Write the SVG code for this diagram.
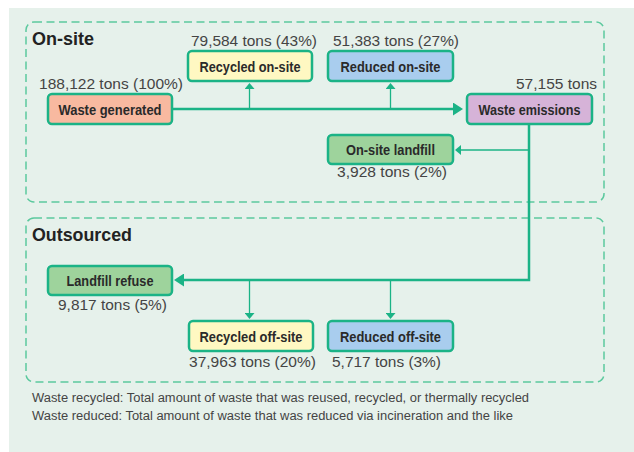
<svg xmlns="http://www.w3.org/2000/svg" width="634" height="452" viewBox="0 0 634 452">
<style>
.bg{fill:#E6F1EB}
.zone{fill:none;stroke:#5CC99E;stroke-width:1.5;stroke-dasharray:8 4.5}
.zt{font-family:"Liberation Sans",Arial,sans-serif;font-weight:bold;font-size:17.5px;fill:#222}
.box{stroke:#1BB386;stroke-width:2.5}
.bl{font-family:"Liberation Sans Narrow","Liberation Sans",Arial,sans-serif;font-weight:bold;font-size:15.5px;fill:#2a2a2a;text-anchor:middle}
.num{font-family:"Liberation Sans",Arial,sans-serif;font-size:15px;fill:#444}
.note{font-family:"Liberation Sans",Arial,sans-serif;font-size:12px;fill:#444}
.thick{fill:none;stroke:#1BB386;stroke-width:2.5}
.thin{fill:none;stroke:#1BB386;stroke-width:1.3}
.ah{fill:#1BB386}
</style>
<defs>
<marker id="big" viewBox="0 0 10 13" refX="1" refY="6.5" markerWidth="10" markerHeight="13" markerUnits="userSpaceOnUse" orient="auto"><path class="ah" d="M0,0 L10,6.5 L0,13 z"/></marker>
<marker id="sm" viewBox="0 0 6 10" refX="1" refY="5" markerWidth="6" markerHeight="10" markerUnits="userSpaceOnUse" orient="auto"><path class="ah" d="M0,0 L6,5 L0,10 z"/></marker>
</defs>
<rect class="bg" x="9" y="8" width="625" height="444"/>
<g id="zone-onsite">
<rect class="zone" x="26" y="22" width="578" height="180" rx="8"/>
<text class="zt" x="32" y="45" textLength="62" lengthAdjust="spacingAndGlyphs">On-site</text>
</g>
<g id="zone-outsourced">
<rect class="zone" x="26" y="218" width="578" height="164" rx="8"/>
<text class="zt" x="32" y="241" textLength="100" lengthAdjust="spacingAndGlyphs">Outsourced</text>
</g>
<g id="connectors">
<path class="thick" d="M172,109 H454" marker-end="url(#big)"/>
<path class="thin" d="M249.5,109 V88" marker-end="url(#sm)"/>
<path class="thin" d="M390.5,109 V88" marker-end="url(#sm)"/>
<path class="thick" d="M529,124 V280 H183" marker-end="url(#big)"/>
<path class="thin" d="M529,150 H460" marker-end="url(#sm)"/>
<path class="thin" d="M249.5,280 V314" marker-end="url(#sm)"/>
<path class="thin" d="M390.5,280 V314" marker-end="url(#sm)"/>
</g>
<g id="waste-generated">
<rect class="box" x="48" y="94" width="124" height="30" rx="4" fill="#F8B9A0"/>
<text class="bl" x="110" y="114.5" textLength="103" lengthAdjust="spacingAndGlyphs">Waste generated</text>
<text class="num" x="39" y="89" textLength="144" lengthAdjust="spacingAndGlyphs">188,122 tons (100%)</text>
</g>
<g id="recycled-onsite">
<rect class="box" x="188" y="51" width="124" height="30" rx="4" fill="#FFF8C2"/>
<text class="bl" x="250" y="71.5" textLength="101" lengthAdjust="spacingAndGlyphs">Recycled on-site</text>
<text class="num" x="191" y="46" textLength="126" lengthAdjust="spacingAndGlyphs">79,584 tons (43%)</text>
</g>
<g id="reduced-onsite">
<rect class="box" x="328" y="51" width="125" height="30" rx="4" fill="#A9CDEE"/>
<text class="bl" x="390.5" y="71.5" textLength="100" lengthAdjust="spacingAndGlyphs">Reduced on-site</text>
<text class="num" x="333" y="46" textLength="126" lengthAdjust="spacingAndGlyphs">51,383 tons (27%)</text>
</g>
<g id="waste-emissions">
<rect class="box" x="467" y="94" width="125" height="30" rx="4" fill="#D6B3D8"/>
<text class="bl" x="529.5" y="114.5" textLength="102" lengthAdjust="spacingAndGlyphs">Waste emissions</text>
<text class="num" x="516" y="89" textLength="81" lengthAdjust="spacingAndGlyphs">57,155 tons</text>
</g>
<g id="onsite-landfill">
<rect class="box" x="328" y="135" width="125" height="29" rx="4" fill="#9ED39C"/>
<text class="bl" x="390.5" y="155" textLength="89" lengthAdjust="spacingAndGlyphs">On-site landfill</text>
<text class="num" x="337" y="177" textLength="110" lengthAdjust="spacingAndGlyphs">3,928 tons (2%)</text>
</g>
<g id="landfill-refuse">
<rect class="box" x="48" y="266" width="124" height="29" rx="4" fill="#9ED39C"/>
<text class="bl" x="110" y="286" textLength="87" lengthAdjust="spacingAndGlyphs">Landfill refuse</text>
<text class="num" x="58" y="310" textLength="109" lengthAdjust="spacingAndGlyphs">9,817 tons (5%)</text>
</g>
<g id="recycled-offsite">
<rect class="box" x="189" y="321" width="124" height="30" rx="4" fill="#FFF8C2"/>
<text class="bl" x="251" y="341.5" textLength="103" lengthAdjust="spacingAndGlyphs">Recycled off-site</text>
<text class="num" x="189" y="367" textLength="127" lengthAdjust="spacingAndGlyphs">37,963 tons (20%)</text>
</g>
<g id="reduced-offsite">
<rect class="box" x="328" y="321" width="125" height="30" rx="4" fill="#A9CDEE"/>
<text class="bl" x="390.5" y="341.5" textLength="101" lengthAdjust="spacingAndGlyphs">Reduced off-site</text>
<text class="num" x="332" y="367" textLength="109" lengthAdjust="spacingAndGlyphs">5,717 tons (3%)</text>
</g>
<g id="notes">
<text class="note" x="32" y="402" textLength="497" lengthAdjust="spacingAndGlyphs">Waste recycled: Total amount of waste that was reused, recycled, or thermally recycled</text>
<text class="note" x="32" y="420" textLength="481" lengthAdjust="spacingAndGlyphs">Waste reduced: Total amount of waste that was reduced via incineration and the like</text>
</g>
</svg>
